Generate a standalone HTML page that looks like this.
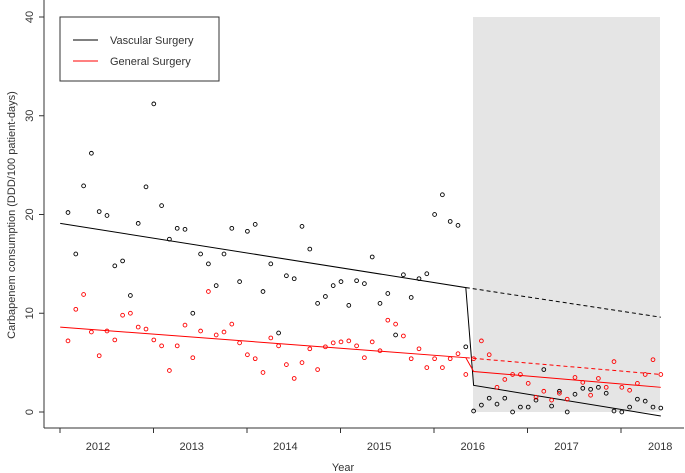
<!DOCTYPE html>
<html><head><meta charset="utf-8"><style>
body{margin:0;background:#fff}svg{display:block;font-family:"Liberation Sans",Arial,sans-serif}
</style></head><body>
<svg id="chart" width="685" height="473">
<rect x="473" y="17" width="187" height="395" fill="#e5e5e5"/>
<g id="axes"></g>
<g id="marks"></g>
<g>
<rect x="60" y="17" width="159" height="64" fill="#fff" stroke="#333" stroke-width="1"/>
<line x1="73" y1="40" x2="98" y2="40" stroke="#000"/>
<text x="110" y="44" font-size="11" fill="#333">Vascular Surgery</text>
<line x1="73" y1="61" x2="98" y2="61" stroke="#f00"/>
<text x="110" y="65" font-size="11" fill="#333">General Surgery</text>
</g>
<text x="343" y="471" font-size="11" text-anchor="middle" fill="#333">Year</text>
<text transform="translate(15,215) rotate(-90)" font-size="11" text-anchor="middle" fill="#333">Carbapenem consumption (DDD/100 patient-days)</text>
</svg>
<script>
const vascular=[20.2,16.0,22.9,26.2,20.3,19.9,14.8,15.3,11.8,19.1,22.8,31.2,20.9,17.5,18.6,18.5,10.0,16.0,15.0,12.8,16.0,18.6,13.2,18.3,19.0,
12.2,15.0,8.0,13.8,13.5,18.8,16.5,11.0,11.7,12.8,13.2,10.8,13.3,13.0,15.7,11.0,12.0,7.8,13.9,11.6,13.5,14.0,20.0,22.0,19.3,18.9,6.6,
0.1,0.7,1.4,0.8,1.4,0.0,0.5,0.5,1.2,4.3,0.6,2.1,0.0,1.8,2.4,2.3,2.5,1.9,0.1,0.0,0.5,1.3,1.1,0.5,0.4];
const general=[7.2,10.4,11.9,8.1,5.7,8.2,7.3,9.8,10.0,8.6,8.4,7.3,6.7,4.2,6.7,8.8,5.5,8.2,12.2,7.8,8.1,8.9,7.0,5.8,5.4,
4.0,7.5,6.7,4.8,3.4,5.0,6.4,4.3,6.6,7.0,7.1,7.2,6.7,5.5,7.1,6.2,9.3,8.9,7.7,5.4,6.4,4.5,5.4,4.5,5.4,5.9,3.8,
5.4,7.2,5.8,2.5,3.3,3.8,3.8,2.9,1.5,2.1,1.2,1.9,1.3,3.5,3.0,1.7,3.4,2.5,5.1,2.5,2.2,2.9,3.8,5.3,3.8];
// fitted segments: [pre start (t=-1), pre end (t=51), post start (t=52), post end (t=76), counterfactual end (t=76)]
const fitVascular=[19.1,12.6,2.7,-0.4,9.6];
const fitGeneral=[8.6,5.5,4.1,2.5,3.8];
const yTicks=[0,10,20,30,40];
const yearLabels=["2012","2013","2014","2015","2016","2017","2018"];
const xs=t=>68+t*7.8, ys=v=>412-v*9.875;
const NS="http://www.w3.org/2000/svg";
function mk(tag,attrs,parent){const e=document.createElementNS(NS,tag);for(const k in attrs)e.setAttribute(k,attrs[k]);parent.appendChild(e);return e;}
const ax=document.getElementById('axes'),mg=document.getElementById('marks');
let l=mk('line',{x1:44,y1:0,x2:44,y2:428,stroke:'#333'},ax);


l=mk('line',{x1:44,y1:428,x2:684,y2:428,stroke:'#333'},ax);


yTicks.forEach(v=>{const y=ys(v);
 mk('line',{x1:39,y1:y,x2:44,y2:y,stroke:'#333'},ax);
 const t=mk('text',{transform:`translate(33,${y}) rotate(-90)`,'font-size':11,'text-anchor':'middle',fill:'#333'},ax);t.textContent=v;
 
 });
yearLabels.forEach((s,i)=>{const x=98+i*93.7;
 if(i<6)mk('line',{x1:60+i*93.5,y1:428,x2:60+i*93.5,y2:433,stroke:'#333'},ax);
 if(i==6)mk('line',{x1:621,y1:428,x2:621,y2:433,stroke:'#333'},ax);
 const t=mk('text',{x:x,y:450,'font-size':11,'text-anchor':'middle',fill:'#333'},ax);t.textContent=s;
 
 });
function series(data,fit,col,name){
 data.forEach((v,i)=>{const c=mk('circle',{cx:xs(i),cy:ys(v),r:1.9,fill:'none',stroke:col,'stroke-width':0.9},mg);
  
  });
 let p=mk('polyline',{points:`${xs(-1)},${ys(fit[0])} ${xs(51)},${ys(fit[1])} ${xs(52)},${ys(fit[2])} ${xs(76)},${ys(fit[3])}`,fill:'none',stroke:col,'stroke-width':1},mg);
 
 
 p=mk('line',{x1:xs(51),y1:ys(fit[1]),x2:xs(76),y2:ys(fit[4]),stroke:col,'stroke-width':1,'stroke-dasharray':'4,3'},mg);
 
 }
series(vascular,fitVascular,'#000','vascular');
series(general,fitGeneral,'#f00','general');
</script>
</body></html>
